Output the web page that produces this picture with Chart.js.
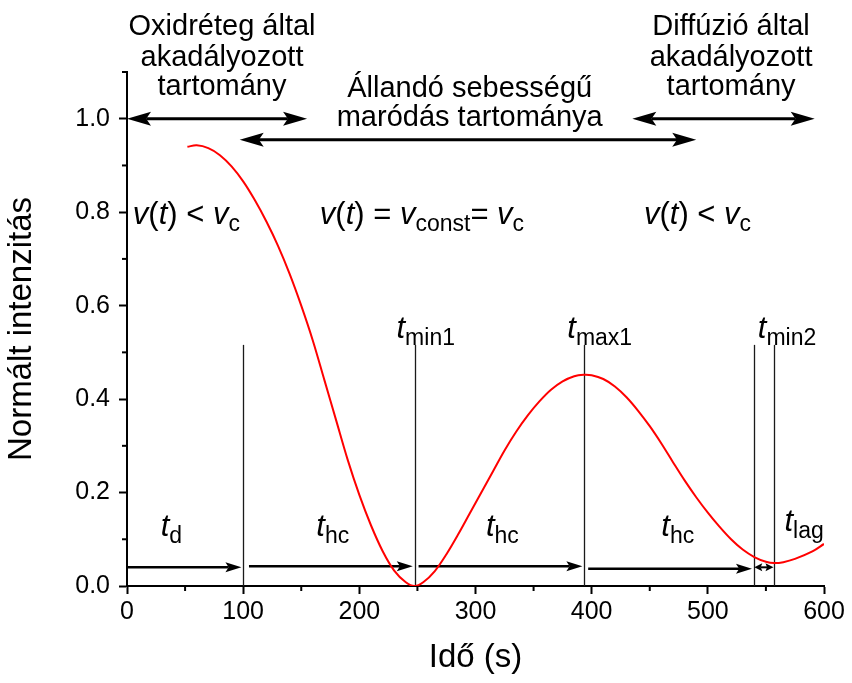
<!DOCTYPE html>
<html><head><meta charset="utf-8">
<script src="https://cdn.jsdelivr.net/npm/chart.js@4.4.1/dist/chart.umd.min.js"></script>
<style>html,body{margin:0;padding:0;background:#fff}#wrap{width:852px;height:683px;position:relative}</style>
</head><body><div id="wrap"><canvas id="c"></canvas></div>
<script>
// ---- data ----
const timeS = [52, 60, 70, 80, 90, 100, 110, 120, 130, 140, 150, 160, 170, 180, 190, 200, 210, 220, 230, 240, 247.5, 255, 265, 275, 285, 295, 305, 315, 325, 335, 345, 355, 365, 375, 385, 393, 400, 410, 420, 430, 440, 450, 460, 470, 480, 490, 500, 510, 520, 530, 540, 550, 557, 565, 575, 590, 600];
const intensity = [0.94, 0.943, 0.937, 0.922, 0.898, 0.866, 0.826, 0.78, 0.728, 0.668, 0.6, 0.525, 0.44, 0.355, 0.27, 0.195, 0.13, 0.075, 0.033, 0.008, 0.0, 0.008, 0.032, 0.068, 0.11, 0.155, 0.2, 0.245, 0.29, 0.33, 0.365, 0.395, 0.42, 0.438, 0.449, 0.452, 0.451, 0.443, 0.427, 0.404, 0.375, 0.342, 0.305, 0.265, 0.226, 0.19, 0.157, 0.127, 0.1, 0.078, 0.062, 0.052, 0.049, 0.051, 0.058, 0.074, 0.09];

const xTicks = [0, 100, 200, 300, 400, 500, 600];
const xMinor = [50, 150, 250, 350, 450, 550];
const yTicks = [0, 0.2, 0.4, 0.6, 0.8, 1.0];
const yMinor = [0.1, 0.3, 0.5, 0.7, 0.9, 1.1];

const markerTimes = [99.5, 247.6, 393.8, 539.5, 557];
const markerTop = 0.516;

const topArrowFrom = [0, 97, 435];
const topArrowTo = [155, 490, 592];
const topArrowLevel = [1.0, 0.955, 1.0];

const lowArrowFrom = [0, 105, 251, 397];
const lowArrowTo = [98.5, 246, 392, 538];
const lowArrowLevel = [0.04, 0.042, 0.042, 0.037];
const lagArrow = [540, 556.5, 0.04];

const headerLeft = ['Oxidréteg által', 'akadályozott', 'tartomány'];
const headerMid = ['Állandó sebességű', 'maródás tartománya'];
const headerRight = ['Diffúzió által', 'akadályozott', 'tartomány'];
const headerLeftX = 81.8, headerMidX = 295, headerRightX = 520;

const rateLeft = [['v','i'],['(','n'],['t','i'],[') < ','n'],['v','i'],['c','s']];
const rateMid = [['v','i'],['(','n'],['t','i'],[') = ','n'],['v','i'],['const','s'],['= ','n'],['v','i'],['c','s']];
const rateRight = rateLeft;
const rateX = [5, 166, 445];
const rateLevel = 0.775;

const peakLabels = ['min1', 'max1', 'min2'];
const peakLabelX = [232, 379, 543];
const peakLabelLevel = 0.53;

const spanLabels = ['d', 'hc', 'hc', 'hc', 'lag'];
const spanLabelX = [29, 163, 309, 460, 566];
const spanLabelLevel = [0.106, 0.106, 0.106, 0.106, 0.118];

const FONT = '"Liberation Sans", Arial, sans-serif';
const HEAD = 29, MAIN = 31, SUB = 23, SUBOFF = 7;

function rich(ctx, segs, x, y, align) {
  const fontOf = s => s[1] === 's' ? `${SUB}px ${FONT}` : (s[1] === 'i' ? `italic ${MAIN}px ${FONT}` : `${MAIN}px ${FONT}`);
  let w = 0;
  segs.forEach(s => { ctx.font = fontOf(s); w += ctx.measureText(s[0]).width; });
  let cx = align === 'center' ? x - w / 2 : x;
  ctx.textAlign = 'left'; ctx.textBaseline = 'alphabetic';
  segs.forEach(s => {
    ctx.font = fontOf(s);
    ctx.fillText(s[0], cx, y + (s[1] === 's' ? SUBOFF : 0));
    cx += ctx.measureText(s[0]).width;
  });
}

function arrow(ctx, x1, x2, y, headL, headR, lw, hl, hw) {
  ctx.lineWidth = lw;
  ctx.beginPath();
  ctx.moveTo(headL ? x1 + hl * 0.8 : x1, y);
  ctx.lineTo(headR ? x2 - hl * 0.8 : x2, y);
  ctx.stroke();
  if (headR) { ctx.beginPath(); ctx.moveTo(x2, y); ctx.lineTo(x2 - hl, y - hw); ctx.lineTo(x2 - hl * 0.8, y); ctx.lineTo(x2 - hl, y + hw); ctx.closePath(); ctx.fill(); }
  if (headL) { ctx.beginPath(); ctx.moveTo(x1, y); ctx.lineTo(x1 + hl, y - hw); ctx.lineTo(x1 + hl * 0.8, y); ctx.lineTo(x1 + hl, y + hw); ctx.closePath(); ctx.fill(); }
}

const annot = {
  id: 'annot',
  beforeDatasetsDraw(chart) {
    const { ctx, scales: { x, y } } = chart;
    ctx.save();
    ctx.strokeStyle = '#1a1a1a'; ctx.lineWidth = 1.3;
    markerTimes.forEach(t => {
      const px = Math.round(x.getPixelForValue(t)) + 0.5;
      ctx.beginPath(); ctx.moveTo(px, y.getPixelForValue(markerTop)); ctx.lineTo(px, y.getPixelForValue(0)); ctx.stroke();
    });
    ctx.strokeStyle = '#000'; ctx.fillStyle = '#000';
    topArrowFrom.forEach((a, i) => {
      arrow(ctx, x.getPixelForValue(a), x.getPixelForValue(topArrowTo[i]), y.getPixelForValue(topArrowLevel[i]), true, true, 3, 24, 7);
    });
    lowArrowFrom.forEach((a, i) => {
      arrow(ctx, x.getPixelForValue(a), x.getPixelForValue(lowArrowTo[i]), y.getPixelForValue(lowArrowLevel[i]), false, true, 2.5, 16, 5);
    });
    arrow(ctx, x.getPixelForValue(lagArrow[0]), x.getPixelForValue(lagArrow[1]), y.getPixelForValue(lagArrow[2]), true, true, 2, 8, 4);
    ctx.restore();
  },
  afterDraw(chart) {
    const { ctx, scales: { x, y } } = chart;
    ctx.save();
    ctx.strokeStyle = '#000'; ctx.lineWidth = 2;
    const b = y.getPixelForValue(0), l = x.getPixelForValue(0);
    xMinor.forEach(v => { const px = x.getPixelForValue(v); ctx.beginPath(); ctx.moveTo(px, b); ctx.lineTo(px, b + 5); ctx.stroke(); });
    yMinor.forEach(v => { const py = y.getPixelForValue(v); ctx.beginPath(); ctx.moveTo(l, py); ctx.lineTo(l - 5, py); ctx.stroke(); });
    ctx.fillStyle = '#000';
    ctx.font = `${HEAD}px ${FONT}`; ctx.textAlign = 'center'; ctx.textBaseline = 'alphabetic';
    const baseTop = [35, 66, 95], baseMid = [97, 126];
    headerLeft.forEach((s, i) => ctx.fillText(s, x.getPixelForValue(headerLeftX), baseTop[i]));
    headerMid.forEach((s, i) => ctx.fillText(s, x.getPixelForValue(headerMidX), baseMid[i]));
    headerRight.forEach((s, i) => ctx.fillText(s, x.getPixelForValue(headerRightX), baseTop[i]));
    [rateLeft, rateMid, rateRight].forEach((segs, i) => rich(ctx, segs, x.getPixelForValue(rateX[i]), y.getPixelForValue(rateLevel), 'left'));
    peakLabels.forEach((s, i) => rich(ctx, [['t', 'i'], [s, 's']], x.getPixelForValue(peakLabelX[i]), y.getPixelForValue(peakLabelLevel), 'left'));
    spanLabels.forEach((s, i) => rich(ctx, [['t', 'i'], [s, 's']], x.getPixelForValue(spanLabelX[i]), y.getPixelForValue(spanLabelLevel[i]), 'left'));
    ctx.restore();
  }
};

new Chart(document.getElementById('c'), {
  type: 'scatter',
  data: {
    datasets: [{
      data: timeS.map((t, i) => ({ x: t, y: intensity[i] })),
      showLine: true, borderColor: '#ff0000', borderWidth: 2, pointRadius: 0,
      tension: 0.35, fill: false
    }]
  },
  options: {
    responsive: true, maintainAspectRatio: false, animation: false,
    layout: { padding: { top: 72, right: 28, left: 0, bottom: 0 } },
    plugins: { legend: { display: false }, tooltip: { enabled: false } },
    scales: {
      x: {
        type: 'linear', min: 0, max: 600,
        afterBuildTicks: s => { s.ticks = xTicks.map(v => ({ value: v })); },
        afterFit: s => { s.height = 97; },
        ticks: { color: '#000', font: { family: FONT, size: 25 }, padding: 3, maxRotation: 0 },
        grid: { display: true, drawOnChartArea: false, drawTicks: true, tickLength: 8, tickWidth: 2, tickColor: '#000' },
        border: { display: true, color: '#000', width: 2 },
        title: { display: true, text: 'Idő (s)', color: '#000', font: { family: FONT, size: 33 }, padding: { top: 0, bottom: 5 } }
      },
      y: {
        type: 'linear', min: 0, max: 1.1,
        afterBuildTicks: s => { s.ticks = yTicks.map(v => ({ value: v })); },
        afterFit: s => { s.width = 127; },
        ticks: { color: '#000', font: { family: FONT, size: 25 }, padding: 9, callback: v => Number(v).toFixed(1) },
        grid: { display: true, drawOnChartArea: false, drawTicks: true, tickLength: 8, tickWidth: 2, tickColor: '#000' },
        border: { display: true, color: '#000', width: 2 },
        title: { display: true, text: 'Normált intenzitás', color: '#000', font: { family: FONT, size: 33 }, padding: { top: 2, bottom: 0 } }
      }
    }
  },
  plugins: [annot]
});
</script></body></html>
